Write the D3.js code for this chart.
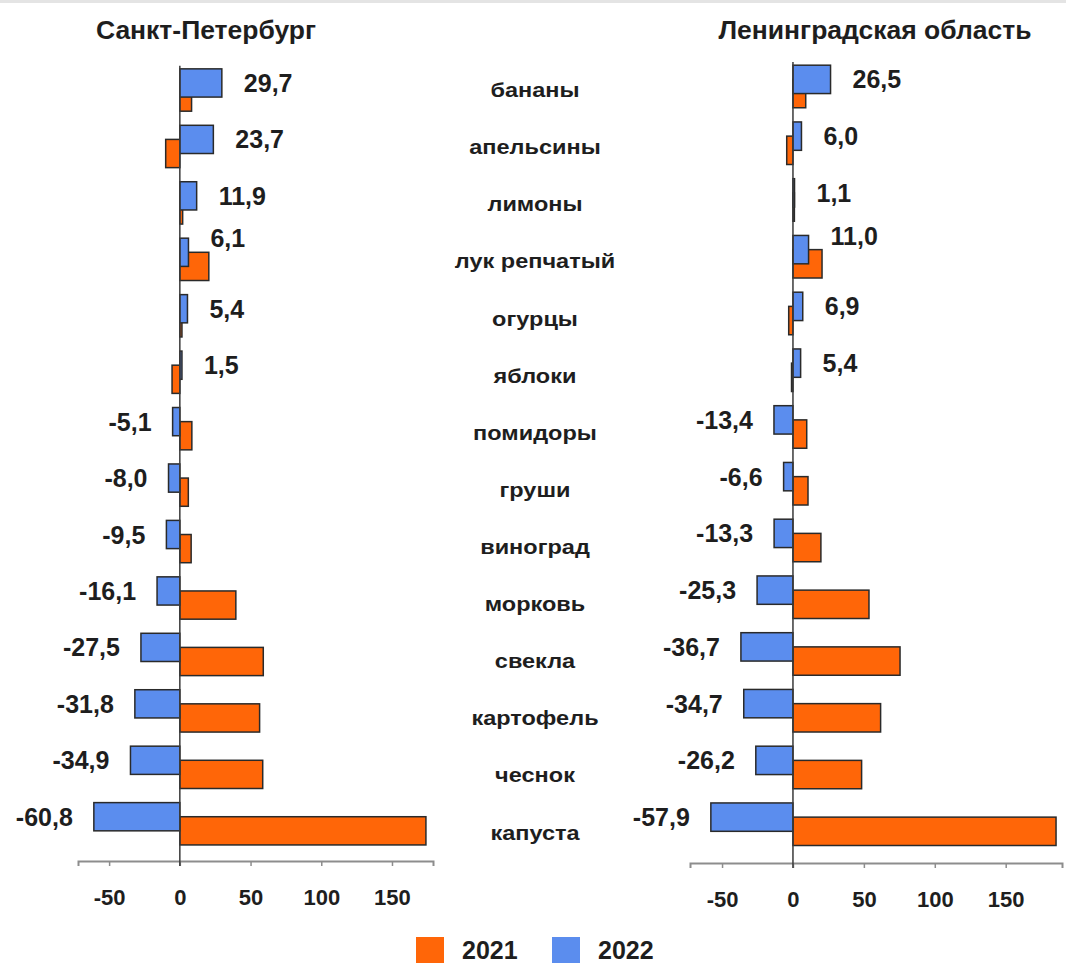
<!DOCTYPE html>
<html lang="ru">
<head>
<meta charset="utf-8">
<script src="https://cdn.jsdelivr.net/npm/d3@7"></script>
<style>
  html, body { margin: 0; padding: 0; background: #fff; }
  svg { display: block; font-family: "Liberation Sans", Arial, sans-serif; }
</style>
</head>
<body>
<svg id="chart" width="1066" height="963"></svg>
<script>
// Изменение цен на фрукты и овощи, % (2021 и 2022 гг.)
const categories = ["бананы", "апельсины", "лимоны", "лук репчатый", "огурцы", "яблоки",
  "помидоры", "груши", "виноград", "морковь", "свекла", "картофель", "чеснок", "капуста"];

const years = ["2021", "2022"];

const spb2021 = [8.3, -10, 2, 20.5, 1.5, -5.5, 8.5, 6, 8, 39.6, 59, 56.4, 58.6, 174];
const spb2022 = [29.7, 23.7, 11.9, 6.1, 5.4, 1.5, -5.1, -8.0, -9.5, -16.1, -27.5, -31.8, -34.9, -60.8];

const lo2021 = [9, -4.4, 1, 20.5, -3, -1, 9.7, 10.6, 19.7, 53.6, 75.5, 61.8, 48.4, 185.5];
const lo2022 = [26.5, 6.0, 1.1, 11.0, 6.9, 5.4, -13.4, -6.6, -13.3, -25.3, -36.7, -34.7, -26.2, -57.9];

const tickValues = [-50, 0, 50, 100, 150];

const colors = { "2021": "#FF6608", "2022": "#5B8DEE" };
const fmt = v => v.toFixed(1).replace(".", ",");

const svg = d3.select("#chart");

// тонкая серая полоса сверху
svg.append("rect").attr("x", 0).attr("y", 0).attr("width", 1066).attr("height", 3).attr("fill", "#e4e4e4");

const panels = [
  { title: "Санкт-Петербург", titleX: 206, v21: spb2021, v22: spb2022,
    domain: [-72, 179], range: [78, 433], yRange: [61.8, 852], axisY: 861 },
  { title: "Ленинградская область", titleX: 875, v21: lo2021, v22: lo2022,
    domain: [-72.6, 189.7], range: [690, 1062], yRange: [58.1, 852.6], axisY: 863 }
];

panels.forEach(p => {
  const x = d3.scaleLinear().domain(p.domain).range(p.range);
  const y = d3.scaleBand().domain(categories).range(p.yRange).paddingInner(0).paddingOuter(0);
  const step = y.bandwidth();
  const g = svg.append("g");

  // заголовок панели
  g.append("text")
    .attr("transform", `translate(${p.titleX},30) scale(1.06,1)`)
    .attr("text-anchor", "middle").attr("dominant-baseline", "central")
    .attr("font-size", 25).attr("font-weight", "bold").attr("fill", "#1e1e1e")
    .text(p.title);

  // ось X
  const axis = d3.axisBottom(x).tickValues(tickValues).tickSize(5).tickPadding(23)
    .tickFormat(d => String(d));
  const ax = g.append("g").attr("transform", `translate(0,${p.axisY})`).call(axis);
  ax.select(".domain").attr("stroke", "#8d8d8d").attr("stroke-width", 2);
  ax.selectAll(".tick line").attr("stroke", "#8d8d8d").attr("stroke-width", 1.5);
  ax.selectAll(".tick text")
    .attr("font-size", 22).attr("font-weight", "bold").attr("fill", "#1e1e1e")
    .attr("font-family", "'Liberation Sans', Arial, sans-serif");

  const rows = categories.map((c, i) => ({ c, v21: p.v21[i], v22: p.v22[i] }));

  // 2021 — нижний столбец (смещён вниз), рисуется первым
  g.selectAll(".b21").data(rows).join("rect")
    .attr("class", "b21")
    .attr("x", d => x(Math.min(0, d.v21)))
    .attr("width", d => Math.abs(x(d.v21) - x(0)))
    .attr("y", d => y(d.c) + step * 0.375)
    .attr("height", step * 0.5)
    .attr("fill", colors["2021"]).attr("stroke", "#2a2a2a").attr("stroke-width", 1.5);

  // 2022 — верхний столбец, поверх 2021
  g.selectAll(".b22").data(rows).join("rect")
    .attr("class", "b22")
    .attr("x", d => x(Math.min(0, d.v22)))
    .attr("width", d => Math.abs(x(d.v22) - x(0)))
    .attr("y", d => y(d.c) + step * 0.125)
    .attr("height", step * 0.5)
    .attr("fill", colors["2022"]).attr("stroke", "#2a2a2a").attr("stroke-width", 1.5);

  // нулевая линия
  g.append("line")
    .attr("x1", x(0)).attr("x2", x(0))
    .attr("y1", p.yRange[0] + 4).attr("y2", p.axisY + 5)
    .attr("stroke", "#3a3a3a").attr("stroke-width", 1.5);

  // подписи значений 2022
  g.selectAll(".lbl").data(rows).join("text")
    .attr("class", "lbl")
    .attr("x", d => d.v22 >= 0 ? x(d.v22) + 22 : x(d.v22) - 21)
    .attr("y", d => {
      const cy = y(d.c) + step * 0.375;
      return (d.v22 > 0 && d.v21 > d.v22) ? cy - 14 : cy;
    })
    .attr("text-anchor", d => d.v22 >= 0 ? "start" : "end")
    .attr("dominant-baseline", "central")
    .attr("font-size", 25).attr("font-weight", "bold").attr("fill", "#1e1e1e")
    .text(d => fmt(d.v22));
});

// подписи категорий по центру
const yLab = d3.scaleBand().domain(categories).range([61.5, 861]);
svg.append("g").selectAll("text").data(categories).join("text")
  .attr("transform", d => `translate(535,${yLab(d) + yLab.bandwidth() / 2}) scale(1.12,1)`)
  .attr("text-anchor", "middle").attr("dominant-baseline", "central")
  .attr("font-size", 21).attr("font-weight", "bold").attr("fill", "#1e1e1e")
  .text(d => d);

// легенда
const legendX = { "2021": 416, "2022": 552 };
const lg = svg.append("g");
years.forEach(yr => {
  lg.append("rect").attr("x", legendX[yr]).attr("y", 937).attr("width", 28).attr("height", 26)
    .attr("fill", colors[yr]);
  lg.append("text").attr("x", legendX[yr] + 46).attr("y", 950)
    .attr("dominant-baseline", "central")
    .attr("font-size", 25).attr("font-weight", "bold").attr("fill", "#1e1e1e")
    .text(yr);
});
</script>
</body>
</html>
